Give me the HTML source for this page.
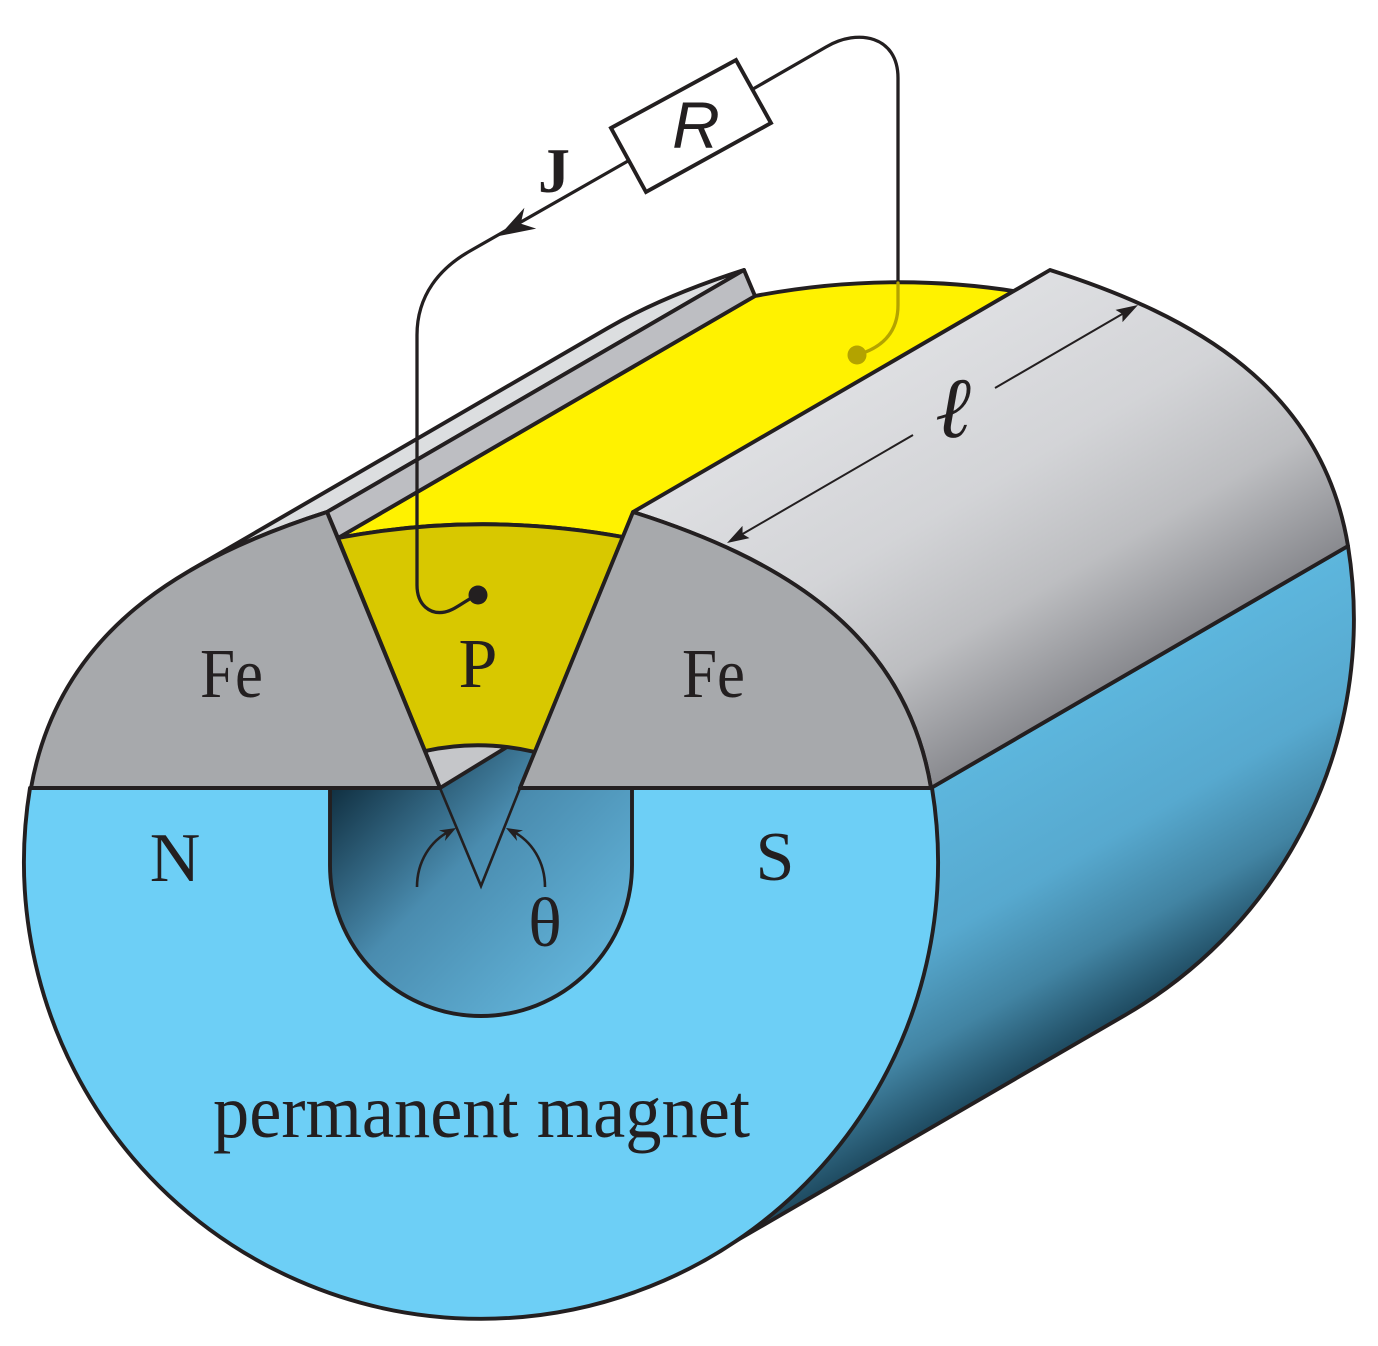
<!DOCTYPE html>
<html><head><meta charset="utf-8"><style>
html,body{margin:0;padding:0;background:#fff;}
svg{display:block;}
</style></head><body>
<svg width="1378" height="1346" viewBox="0 0 1378 1346" xmlns="http://www.w3.org/2000/svg">
<defs>
<linearGradient id="gSide" gradientUnits="userSpaceOnUse" x1="1000" y1="750" x2="1147" y2="1003">
<stop offset="0" stop-color="#5db6dd"/><stop offset="0.45" stop-color="#57a9cf"/><stop offset="0.75" stop-color="#4284a3"/><stop offset="1" stop-color="#1e4a60"/>
</linearGradient>
<linearGradient id="gFe" gradientUnits="userSpaceOnUse" x1="700" y1="470" x2="897" y2="809">
<stop offset="0" stop-color="#dedfe2"/><stop offset="0.4" stop-color="#d3d4d7"/><stop offset="0.7" stop-color="#bdbec1"/><stop offset="1" stop-color="#88898e"/>
</linearGradient>
<linearGradient id="gHole" gradientUnits="userSpaceOnUse" x1="335" y1="790" x2="560" y2="1010">
<stop offset="0" stop-color="#123244"/><stop offset="0.45" stop-color="#4a8caf"/><stop offset="1" stop-color="#62b4da"/>
</linearGradient>
</defs>
<g stroke="#231f20" stroke-width="3.9" stroke-linejoin="round">
<path d="M 931,788 L 1348,546 A 457 457 0 0 1 1127,1014 L 710,1256 A 457 457 0 0 0 931,788 Z" fill="url(#gSide)"/>
<path d="M 338,538 L 755,296 Q 897,269 1037,295 L 1100,330 L 650,560 L 623,537 Q 480,511 338,538 Z" fill="#fff200"/>
<path d="M 633,512 L 1050,270 C 1195,316 1322,388 1348,546 L 931,788 C 905,630 778,558 633,512 Z" fill="url(#gFe)"/>
<path d="M 190.6,570.2 L 607.6,328.2 C 648.9,304.2 695.4,285.6 744,270 L 327,512 C 278.4,527.6 231.9,546.2 190.6,570.2 Z" fill="#dcdee0"/>
<path d="M 327,512 L 744,270 L 755,296 L 338,538 Z" fill="#bdbec2"/>
<path d="M 30,788 L 932,788 A 457 457 0 1 1 30,788 Z" fill="#6dcff6"/>
<path d="M 330,788 L 330,865 A 151 151 0 0 0 632,865 L 632,788" fill="url(#gHole)"/>
</g>
<path d="M 440,788 L 507,747 L 535,752 L 520,788 L 481,886 Z" fill="url(#gHole)"/>
<g stroke="#231f20" stroke-width="3.9" stroke-linejoin="round">
<path d="M 425,751 Q 462,741 507,747 L 440,788 Z" fill="#c5c6c9"/>
<path d="M 338,538 Q 480,511 623,537 L 535,752 Q 480,739 425,751 Z" fill="#d8c800"/>
<path d="M 31,788 C 59,630 184,558 327,512 L 440,788 Z" fill="#a7a9ac"/>
<path d="M 931,788 C 905,630 778,558 633,512 L 520,788 Z" fill="#a7a9ac"/>
</g>
<path d="M 440,788 L 481,886 L 520,788" fill="none" stroke="#231f20" stroke-width="2.6" stroke-linejoin="miter"/>
<g fill="none" stroke="#231f20" stroke-width="2.6">
<path d="M 417,887 C 417,862 430,841 450,831"/>
<path d="M 545,887 C 545,862 532,841 512,831"/>
</g>
<path d="M 456,828 L 439,830.4 L 446.4,833.3 L 444.9,841 Z" fill="#231f20"/>
<path d="M 506,828 L 523,830.4 L 515.6,833.3 L 517.1,841 Z" fill="#231f20"/>
<g stroke="#231f20" stroke-width="2" fill="none">
<path d="M 740,535.5 L 913,435"/>
<path d="M 995,388 L 1124,313"/>
</g>
<path d="M 727,543 L 742.5,525.9 L 742.6,534 L 749.5,538.1 Z" fill="#231f20"/>
<path d="M 1138,305 L 1122.5,322.1 L 1122.4,314 L 1115.5,309.9 Z" fill="#231f20"/>
<g fill="none" stroke="#231f20" stroke-width="3.3" stroke-linecap="round" stroke-linejoin="round">
<path d="M 628,161 L 470,251 C 440,268 417,295 417,335 L 417,585 C 417,605 430,615 445,612 C 455,610 466,600 477,595"/>
<path d="M 753,89 L 826,47 C 858,28 898,36 898,78 L 898,283"/>
</g>
<path d="M 898,283 L 898,305 C 898,330 885,346 860,354" fill="none" stroke="#b3a300" stroke-width="3.3" stroke-linecap="round"/>
<circle cx="857" cy="355" r="9.5" fill="#b3a300"/>
<circle cx="478" cy="595" r="9.5" fill="#231f20"/>
<path d="M 499,236 L 524.4,207.8 L 520.7,223.6 L 536.2,228.6 Z" fill="#231f20"/>
<path d="M 611,128 L 736,60 L 771,123 L 646,192 Z" fill="#fff" stroke="#231f20" stroke-width="3.9" stroke-linejoin="miter"/>
<g fill="#231f20">
<text x="696" y="148" font-family="Liberation Sans, sans-serif" font-style="italic" font-size="66" text-anchor="middle">R</text>
<text x="554" y="192" font-family="Liberation Serif, serif" font-weight="bold" font-size="64" text-anchor="middle">J</text>
<text x="953" y="437" font-family="Liberation Serif, DejaVu Serif, serif" font-style="italic" font-size="86" text-anchor="middle">ℓ</text>
<g font-family="Liberation Serif, serif" font-size="70">
<text x="200" y="697" textLength="63" lengthAdjust="spacingAndGlyphs">Fe</text>
<text x="682" y="697" textLength="63" lengthAdjust="spacingAndGlyphs">Fe</text>
<text x="478" y="687" text-anchor="middle">P</text>
<text x="175" y="881" text-anchor="middle">N</text>
<text x="775" y="880" text-anchor="middle">S</text>
<text x="545" y="946" text-anchor="middle">θ</text>
<text x="213" y="1137" font-size="76" textLength="537" lengthAdjust="spacingAndGlyphs">permanent magnet</text>
</g>
</g>
</svg>
</body></html>
